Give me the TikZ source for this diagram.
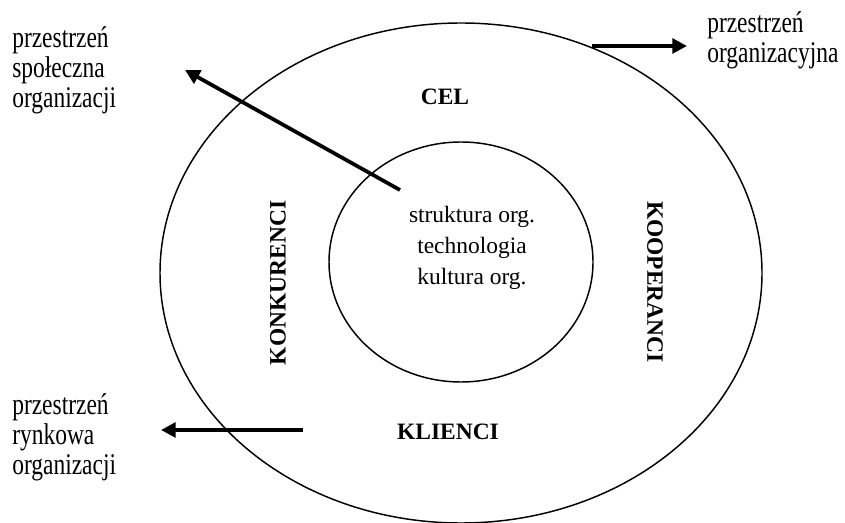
\documentclass[tikz,border=0pt]{standalone}
\usepackage{graphicx}
\usepackage{fontspec}
\setmainfont{Liberation Serif}
\usetikzlibrary{arrows.meta,shapes.geometric}
\newcommand{\tallbox}[1]{\scalebox{1}[1.28]{\fontsize{17.6}{17.3}\selectfont
  \begin{tabular}[t]{@{}l@{}}#1\end{tabular}}}

\begin{document}
\begin{tikzpicture}[x=0.75pt, y=-0.75pt, >={Triangle[length=11pt,width=11pt]},
	   font=\fontsize{17.6}{23.5}\selectfont,
	   ring/.style={draw, ellipse, line width=1.1pt, inner sep=0pt},
	   bf/.style={font=\fontsize{17.6}{23.5}\selectfont\bfseries, inner sep=0pt},
	   lb/.style={anchor=base west, inner sep=0pt},
	   thick arrow/.style={->, line width=2.8pt}]
	  \useasboundingbox (0,0) rectangle (845,523);
	  \node[ring, minimum width=451.5pt, minimum height=375pt] (out) at (461,273) {};
	  \node[ring, minimum width=198pt, minimum height=180pt] (in) at (461,262) {};
	  \node[align=center, inner sep=0pt] (core) at (472,248) {struktura org.\\technologia\\kultura org.};
	  \node[bf] (cel) at (445,97) {CEL};
	  \node[bf] (kl) at (448,432) {KLIENCI};
	  \node[bf, rotate=90] (konk) at (278,283) {KONKURENCI};
	  \node[bf, rotate=-90] (koop) at (655,282) {KOOPERANCI};
	  \node[lb] (spo) at (12,48) {\tallbox{przestrzeń\\społeczna\\organizacji}};
	  \node[lb] (org) at (707,33) {\tallbox{przestrzeń\\organizacyjna}};
	  \node[lb] (ryn) at (12,415) {\tallbox{przestrzeń\\rynkowa\\organizacji}};
	  \coordinate (spo0) at (400,190);
	  \coordinate (spo1) at (185,70);
	  \coordinate (org0) at (592,46);
	  \coordinate (org1) at (687,46);
	  \coordinate (ryn0) at (303,430);
	  \coordinate (ryn1) at (161,430);
	  \draw[thick arrow] (spo0) -- (spo1);
	  \draw[thick arrow] (org0) -- (org1);
	  \draw[thick arrow] (ryn0) -- (ryn1);
	\end{tikzpicture}
\end{document}
